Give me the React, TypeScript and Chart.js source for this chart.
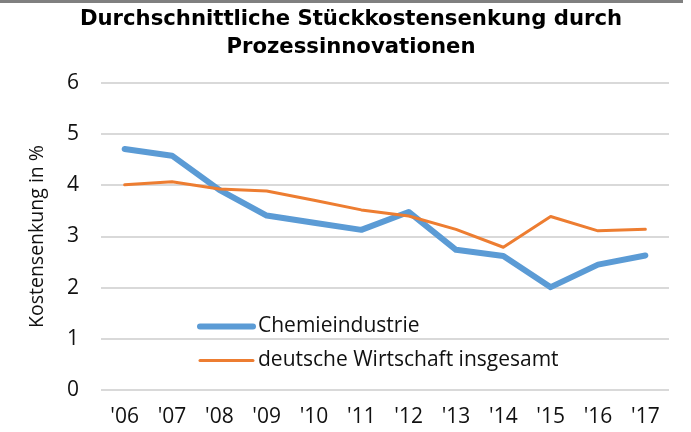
import React, { useEffect, useRef } from "react";
import { Chart, registerables } from "chart.js";

Chart.register(...registerables);

const years = ["'06", "'07", "'08", "'09", "'10", "'11", "'12", "'13", "'14", "'15", "'16", "'17"];
const chemie = [4.71, 4.58, 3.91, 3.41, 3.27, 3.13, 3.48, 2.74, 2.62, 2.01, 2.45, 2.63];
const wirtschaft = [4.01, 4.07, 3.93, 3.89, 3.71, 3.52, 3.40, 3.14, 2.79, 3.39, 3.11, 3.14];
const titleLines = ["Durchschnittliche Stückkostensenkung durch", "Prozessinnovationen"];
const yTitle = "Kostensenkung in %";
const seriesNames = ["Chemieindustrie", "deutsche Wirtschaft insgesamt"];

const BLUE = "#5B9BD5";
const ORANGE = "#ED7D31";
const TEXT_FONT = "'Open Sans', sans-serif";

const titlePlugin = {
  id: "centeredTitle",
  afterDraw(chart: any) {
    const { ctx } = chart;
    ctx.save();
    ctx.fillStyle = "#000";
    ctx.font = "bold 21.2px 'DejaVu Sans', sans-serif";
    ctx.textAlign = "center";
    ctx.textBaseline = "middle";
    const cx = 351;
    const ys = [19.5, 47];
    titleLines.forEach((t, i) => ctx.fillText(t, cx, ys[i]));
    ctx.restore();
  },
};

const legendPlugin = {
  id: "insideLegend",
  afterDraw(chart: any) {
    const { ctx, chartArea } = chart;
    const x0 = chartArea.left + 99;
    const x1 = x0 + 53;
    const rows = [
      { y: chartArea.top + 243.5, ds: chart.data.datasets[0] },
      { y: chartArea.top + 277.5, ds: chart.data.datasets[1] },
    ];
    ctx.save();
    for (const r of rows) {
      ctx.beginPath();
      ctx.strokeStyle = r.ds.borderColor;
      ctx.lineWidth = r.ds.borderWidth;
      ctx.lineCap = "round";
      ctx.moveTo(x0, r.y);
      ctx.lineTo(x1, r.y);
      ctx.stroke();
      ctx.fillStyle = "#111";
      ctx.font = `21px ${TEXT_FONT}`;
      ctx.textBaseline = "middle";
      ctx.textAlign = "left";
      ctx.fillText(r.ds.label, x1 + 5, r.y);
    }
    ctx.restore();
  },
};

export default function App() {
  const ref = useRef<HTMLCanvasElement | null>(null);

  useEffect(() => {
    document.body.style.margin = "0";
    if (!ref.current) return;
    const chart = new Chart(ref.current, {
      type: "line",
      data: {
        labels: years,
        datasets: [
          {
            label: seriesNames[0],
            data: chemie,
            borderColor: BLUE,
            backgroundColor: BLUE,
            borderWidth: 6,
            pointRadius: 0,
            tension: 0,
            borderCapStyle: "round",
            borderJoinStyle: "round",
            order: 1,
          },
          {
            label: seriesNames[1],
            data: wirtschaft,
            borderColor: ORANGE,
            backgroundColor: ORANGE,
            borderWidth: 3,
            pointRadius: 0,
            tension: 0,
            borderCapStyle: "round",
            borderJoinStyle: "round",
            order: 0,
          },
        ],
      },
      options: {
        animation: false,
        responsive: false,
        maintainAspectRatio: false,
        layout: { padding: { left: 0, right: 22, top: 83, bottom: 0 } },
        plugins: {
          legend: { display: false },
          tooltip: { enabled: false },
          title: { display: false },
        },
        scales: {
          x: {
            offset: true,
            grid: { display: false },
            border: { display: false },
            ticks: {
              color: "#111",
              font: { family: TEXT_FONT, size: 21 },
              padding: 6,
              maxRotation: 0,
              autoSkip: false,
            },
            afterFit(scale: any) {
              scale.height = 42;
            },
          },
          y: {
            min: 0,
            max: 6,
            grid: { color: "#d9d9d9", lineWidth: 2, drawTicks: false },
            border: { display: false },
            ticks: {
              stepSize: 1,
              color: "#111",
              font: { family: TEXT_FONT, size: 21 },
              padding: 22,
            },
            title: {
              display: true,
              text: yTitle,
              color: "#111",
              font: { family: TEXT_FONT, size: 19.5 },
              padding: { top: 26, bottom: 0 },
            },
            afterFit(scale: any) {
              scale.width = 101;
            },
          },
        },
      },
      plugins: [legendPlugin, titlePlugin],
    });
    return () => chart.destroy();
  }, []);

  return (
    <div style={{ position: "relative", width: 691, height: 432, background: "#fff" }}>
      <canvas ref={ref} width={691} height={432} style={{ display: "block" }} />
      <div style={{ position: "absolute", left: 0, top: 0, width: 683, height: 3, background: "#808080" }} />
    </div>
  );
}
